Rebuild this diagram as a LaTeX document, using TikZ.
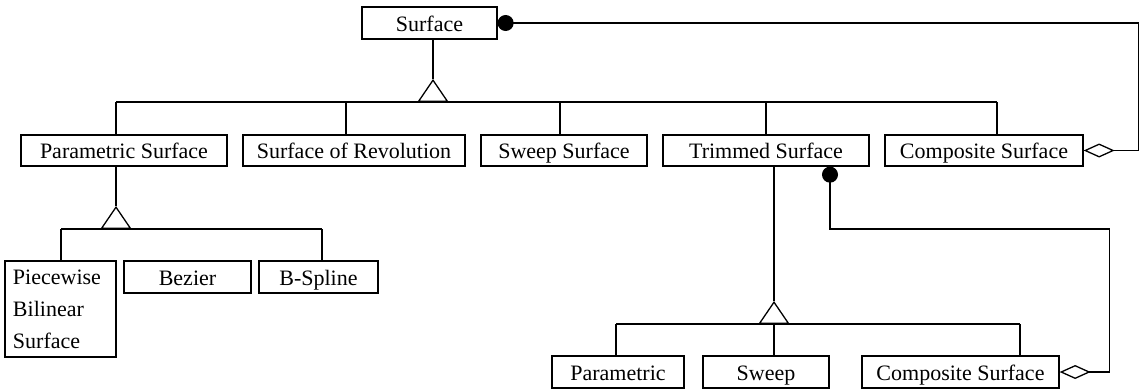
\documentclass[tikz,border=0pt]{standalone}
\usepackage{fontspec}
\setmainfont{Liberation Serif}
\usetikzlibrary{arrows.meta}
\begin{document}
\begin{tikzpicture}[x=1bp,y=-1bp,
  cls/.style={draw, line width=1.3bp, rectangle, inner sep=0pt,
    text height=16bp, text depth=0bp, minimum height=32bp,
    font=\fontsize{22bp}{32bp}\selectfont},
  link/.style={line width=1.3bp},
  gen/.style={line width=1.3bp, -{Triangle[open,length=23bp,width=31bp]}},
  agg/.style={line width=1.3bp, {Diamond[open,length=31bp,width=14bp]}-{Circle[length=16bp]}}]
\useasboundingbox (0,0) rectangle (1140,390);

% classes
\node[cls, minimum width=135bp] (surface) at (429.5,23) {Surface};
\node[cls, minimum width=206bp, minimum height=31bp] (ps)  at (124,150.5) {Parametric Surface};
\node[cls, minimum width=222bp, minimum height=31bp] (sor) at (354,150.5) {Surface of Revolution};
\node[cls, minimum width=166bp, minimum height=31bp] (sws) at (564,150.5) {Sweep Surface};
\node[cls, minimum width=206bp, minimum height=31bp] (ts)  at (766,150.5) {Trimmed Surface};
\node[cls, minimum width=198bp, minimum height=31bp] (cs)  at (984,150.5) {Composite Surface};

\node[draw, line width=1.3bp, rectangle, inner xsep=8bp, inner ysep=0pt,
      minimum width=111bp, minimum height=96bp, text width=95bp, align=left,
      font=\fontsize{22bp}{32bp}\selectfont] (pw) at (60.5,309) {Piecewise\\Bilinear\\Surface};
\node[cls, minimum width=127bp] (bez) at (187.5,277) {Bezier};
\node[cls, minimum width=119bp] (bsp) at (318.5,277) {B-Spline};

\node[cls, minimum width=132bp] (par) at (618,372) {Parametric};
\node[cls, minimum width=126bp] (swp) at (766,372) {Sweep};
\node[cls, minimum width=197bp] (cs2) at (960.5,372) {Composite Surface};

% generalisation of Surface
\coordinate (a1) at (433,79);
\coordinate (m1) at (433,102);
\coordinate (t1) at (116,102);
\coordinate (t2) at (346,102);
\coordinate (t3) at (560,102);
\coordinate (t4) at (766,102);
\coordinate (t5) at (997,102);
\draw[link] (a1 |- surface.south) -- (a1);
\draw[gen] (m1) -- (a1);
\draw[link] (t1) -- (t5);
\draw[link] (t1) -- (t1 |- ps.north);
\draw[link] (t2) -- (t2 |- sor.north);
\draw[link] (t3) -- (t3 |- sws.north);
\draw[link] (t4) -- (t4 |- ts.north);
\draw[link] (t5) -- (t5 |- cs.north);

% generalisation of Parametric Surface
\coordinate (a2) at (116,206);
\coordinate (m2) at (116,229);
\coordinate (p1) at (61,229);
\coordinate (p2) at (322,229);
\draw[link] (a2 |- ps.south) -- (a2);
\draw[gen] (m2) -- (a2);
\draw[link] (p1) -- (p2);
\draw[link] (p1) -- (p1 |- pw.north);
\draw[link] (p2) -- (p2 |- bsp.north);

% generalisation of Trimmed Surface
\coordinate (a3) at (774,301);
\coordinate (m3) at (774,324);
\coordinate (q1) at (616,324);
\coordinate (q2) at (774,324);
\coordinate (q3) at (1020,324);
\draw[link] (a3 |- ts.south) -- (a3);
\draw[gen] (m3) -- (a3);
\draw[link] (q1) -- (q3);
\draw[link] (q1) -- (q1 |- par.north);
\draw[link] (q2) -- (q2 |- swp.north);
\draw[link] (q3) -- (q3 |- cs2.north);

% aggregations
\draw[agg] (cs.east) -- ++(55,0) |- (surface.east);
\coordinate (k) at (830,229);
\draw[agg] (cs2.east) -- ++(50,0) |- (k) -- (k |- ts.south);
\end{tikzpicture}
\end{document}
